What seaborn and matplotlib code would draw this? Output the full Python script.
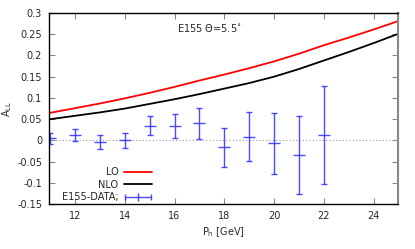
import numpy as np
import pandas as pd
import matplotlib
matplotlib.use("Agg")
import matplotlib.pyplot as plt
from matplotlib.legend_handler import HandlerErrorbar
import seaborn as sns

# theory curves (at integer P_h)
ph_curve = [11, 12, 13, 14, 15, 16, 17, 18, 19, 20, 21, 22, 23, 24, 25]
lo_vals = [0.065, 0.076, 0.087, 0.099, 0.112, 0.126, 0.141, 0.155, 0.170,
           0.186, 0.204, 0.224, 0.242, 0.261, 0.281]
nlo_vals = [0.050, 0.058, 0.066, 0.075, 0.086, 0.097, 0.109, 0.122, 0.135,
            0.150, 0.168, 0.188, 0.208, 0.229, 0.251]

# E155 data points
ph_data = [11, 12, 13, 14, 15, 16, 17, 18, 19, 20, 21, 22]
all_data = [0.005, 0.012, -0.004, 0.0, 0.035, 0.034, 0.040, -0.016, 0.009,
            -0.007, -0.035, 0.013]
all_err = [0.013, 0.014, 0.016, 0.018, 0.023, 0.028, 0.036, 0.046, 0.058,
           0.072, 0.092, 0.115]

x_ticks = [12, 14, 16, 18, 20, 22, 24]
y_ticks = [-0.15, -0.1, -0.05, 0, 0.05, 0.1, 0.15, 0.2, 0.25, 0.3]
y_labels = ["-0.15", "-0.1", "-0.05", "0", "0.05", "0.1", "0.15", "0.2", "0.25", "0.3"]

sns.set_style("ticks")
plt.rcParams["font.family"] = ["DejaVu Sans"]
fs = 7

curves = pd.DataFrame({"ph": ph_curve * 2,
                       "all": lo_vals + nlo_vals,
                       "order": ["LO"] * len(ph_curve) + ["NLO"] * len(ph_curve)})

fig, ax = plt.subplots(figsize=(4.15, 2.49), dpi=100)
fig.subplots_adjust(left=0.118, right=0.96, top=0.948, bottom=0.18)

blue = "#2b2bff"
ax.axhline(0, color="#999999", lw=0.8, ls=(0, (1, 2)), zorder=1)
sns.lineplot(data=curves, x="ph", y="all", hue="order",
             palette={"LO": "#ff0000", "NLO": "#000000"}, lw=1.3, ax=ax)
ax.errorbar(ph_data, all_data, yerr=all_err, fmt="_", color=blue,
            ms=8, mew=1.0, elinewidth=1.0, capsize=2.5, capthick=1.0,
            alpha=0.85)
# legend proxy drawn horizontally, gnuplot style
proxy = ax.errorbar([np.nan], [np.nan], xerr=[np.nan], fmt="|", color=blue,
                    ms=6, mew=1.0, elinewidth=1.0, capsize=2.5, capthick=1.0,
                    alpha=0.85, label="E155-DATA;")

ax.set_xlim(10.95, 25)
ax.set_ylim(-0.15, 0.3)
ax.set_xticks(x_ticks)
ax.set_yticks(y_ticks)
ax.set_yticklabels(y_labels)
ax.tick_params(direction="in", length=4, width=0.8, color="#888888",
               top=True, right=True, labelsize=fs, pad=5)
for s in ["left", "bottom", "top"]:
    ax.spines[s].set_color("black")
    ax.spines[s].set_linewidth(1.0)
ax.spines["right"].set_color("#888888")
ax.spines["right"].set_linewidth(1.5)

ax.set_xlabel("P$_\\mathregular{h}$ [GeV]", fontsize=fs, labelpad=3)
ax.set_ylabel("A$_\\mathregular{LL}$", fontsize=fs, labelpad=2)

ax.text(16.1, 0.264, "E155 \u0398=5.5$^{\\circ}$", fontsize=fs, va="center", ha="left")

handles, labels = ax.get_legend_handles_labels()
ax.legend(handles, labels, loc="lower left", bbox_to_anchor=(0.015, -0.03),
          frameon=False, markerfirst=False, fontsize=fs, handlelength=2.8,
          handletextpad=0.6, labelspacing=0.25, borderpad=0.3,
          handler_map={type(proxy): HandlerErrorbar(xerr_size=1.3)})

fig.savefig("out.png", dpi=100)
